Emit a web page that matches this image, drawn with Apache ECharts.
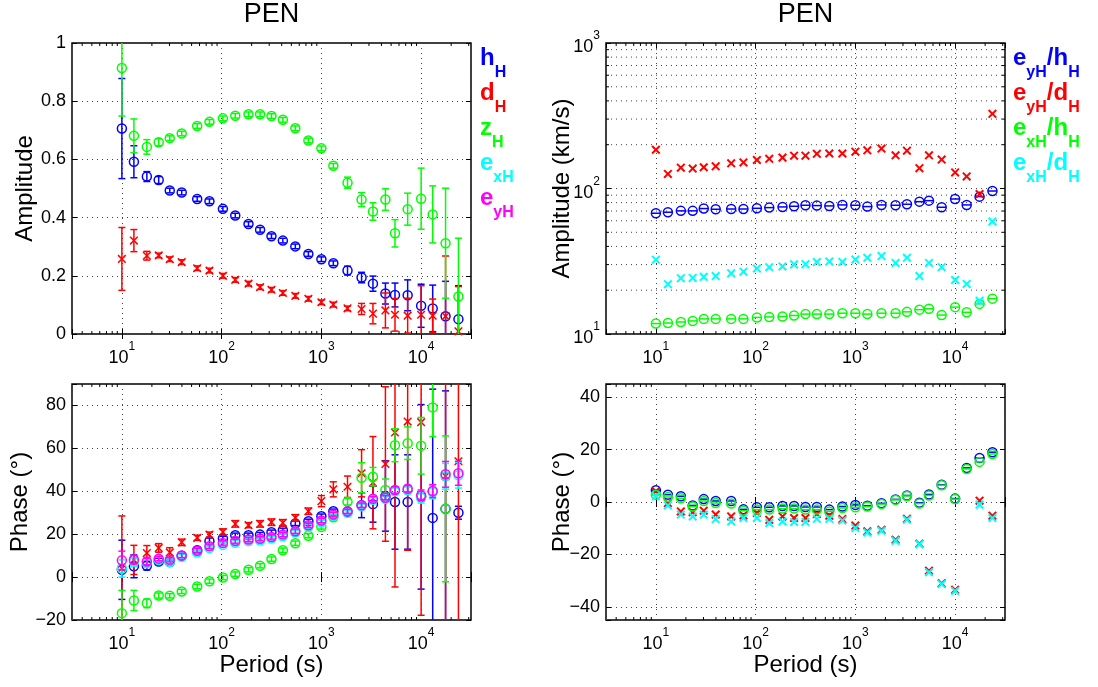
<!DOCTYPE html>
<html>
<head>
<meta charset="utf-8">
<title>PEN</title>
<script src="https://cdn.jsdelivr.net/npm/echarts@6/dist/echarts.min.js"></script>
<style>
  html, body { margin: 0; padding: 0; background: #fff; }
  #main { width: 1098px; height: 687px; }
</style>
</head>
<body>
<div id="main"></div>
<script>
// periods (s), shared by all four panels
var periods = [10, 13.2, 17.8, 23.4, 30.2, 39.8, 56.9, 75.5, 103, 137, 186, 243, 316, 411,
  548, 741, 1000, 1318, 1828, 2529, 3289, 4385, 5470, 7328, 10000, 13062, 17579, 23659];

// top left: amplitude of the transfer functions (with error)
var ampH = [0.706, 0.592, 0.541, 0.529, 0.493, 0.486, 0.464, 0.456, 0.430, 0.407, 0.378, 0.358, 0.336, 0.321,
  0.301, 0.275, 0.257, 0.243, 0.218, 0.194, 0.173, 0.139, 0.134, 0.133, 0.097, 0.088, 0.061, 0.051];
var ampHErr = [0.172, 0.055, 0.017, 0.012, 0.008, 0.008, 0.008, 0.008, 0.008, 0.008, 0.008, 0.008, 0.008, 0.008,
  0.008, 0.008, 0.008, 0.008, 0.015, 0.018, 0.026, 0.036, 0.041, 0.053, 0.074, 0.08, 0.12, 0.115];
var ampD = [0.258, 0.321, 0.269, 0.270, 0.257, 0.247, 0.226, 0.218, 0.200, 0.186, 0.173, 0.161, 0.152, 0.141,
  0.131, 0.121, 0.109, 0.101, 0.088, 0.086, 0.070, 0.081, 0.066, 0.063, 0.066, 0.063, 0.061, 0.009];
var ampDErr = [0.108, 0.038, 0.015, 0.008, 0.008, 0.008, 0.008, 0.008, 0.008, 0.008, 0.008, 0.008, 0.008, 0.008,
  0.008, 0.008, 0.008, 0.008, 0.008, 0.019, 0.035, 0.060, 0.056, 0.060, 0.100, 0.057, 0.207, 0.154];
var ampZ = [0.914, 0.681, 0.643, 0.659, 0.673, 0.689, 0.715, 0.729, 0.741, 0.750, 0.755, 0.755, 0.749, 0.736,
  0.707, 0.665, 0.638, 0.578, 0.520, 0.462, 0.421, 0.462, 0.346, 0.429, 0.465, 0.411, 0.312, 0.129];
var ampZErr = [0.165, 0.058, 0.025, 0.012, 0.008, 0.008, 0.008, 0.008, 0.008, 0.008, 0.008, 0.008, 0.008, 0.008,
  0.008, 0.008, 0.008, 0.008, 0.019, 0.024, 0.030, 0.037, 0.047, 0.055, 0.105, 0.098, 0.189, 0.200];

// bottom left: phase (deg)
var phH = [3.4, 5.0, 5.3, 7.3, 7.0, 10.0, 12.5, 16.7, 18.0, 19.5, 19.5, 19.8, 20.9, 21.8,
  25.0, 26.0, 28.4, 30.7, 30.3, 33.5, 34.0, 37.8, 35.0, 35.0, 37.4, 27.6, 31.8, 30.0];
var phHErr = [13.8, 5.3, 2.0, 1.5, 1, 1, 1, 1.5, 1, 1, 1, 1, 1, 1,
  1, 1, 1, 1, 1.5, 5.8, 8.4, 16.4, 22, 22, 43, 60, 55, 3];
var phD = [4, 8, 11.2, 13.6, 11.5, 16.2, 18.3, 19.8, 21, 24.8, 24.2, 24.8, 25.6, 25.3,
  27.6, 30.7, 35.4, 40.9, 42.1, 48.4, 44, 52.7, 67.4, 72.5, 72.2, null, 47, 54];
var phDErr = [24.5, 6.8, 3.5, 2, 2.2, 1.5, 1.2, 1.2, 1.5, 1.5, 1.2, 1.5, 1.5, 1.5,
  1.5, 1.5, 2.6, 3.5, 5, 11, 21.5, 36, 72, 60, 90, 0, 80, 80];
var phZ = [-16.8, -10.9, -12.2, -8.6, -8.7, -6.7, -4.4, -1.9, -0.2, 1.4, 3.4, 5.3, 8.4, 12.5,
  15.8, 19.3, 23.4, 27.9, 35.1, 46.3, 46.8, 40.6, 61.5, 62.4, 61.2, 79.1, 31.8, null];
var phZErr = [10.6, 4.7, 2, 1.2, 1, 1, 1, 1, 1, 1, 1, 1, 1, 1,
  1, 1, 1, 1, 1.5, 7, 4.3, 5.1, 7.7, 7.6, 13.2, 13.6, 34, 0];
var phEx = [4, 7, 6.5, 8, 7, 9.5, 11.5, 13.5, 15, 16, 16.8, 17, 18, 19,
  20.8, 23.5, 25.5, 28.5, 30, 33, 36, 36.5, 40, 40.5, 37, 39.5, 47, 47.5];
var phExErr = [4, 2, 1.5, 1.2, 1, 1, 1, 1, 1, 1, 1, 1, 1, 1,
  1, 1, 1, 1, 1, 1, 1, 1, 1.5, 1.5, 2.5, 3, 6, 6];
var phEy = [7.8, 8.1, 7.3, 8.6, 8.1, 10.1, 12.3, 14.4, 15.9, 16.8, 17.5, 17.9, 18.7, 19.8,
  21.4, 24.2, 26.4, 29.2, 30.7, 33.5, 36.5, 37, 40.6, 41.2, 38.1, 40.1, 47.9, 48.4];
var phEyErr = [4.3, 2, 1.5, 1, 1, 1, 1, 1, 1, 1, 1, 1, 1, 1,
  1, 1, 1, 1, 1, 1, 1, 1, 1.5, 1.5, 2.5, 3, 6, 5.6];

// top right: impedance-like ratios (km/s)
var ratYH = [67.6, 68.7, 70.2, 70.2, 72.8, 72, 72.3, 72.3, 73.1, 73.9, 74.7, 75.5, 76.7, 76.3,
  75.9, 77.1, 76.7, 75.1, 77.1, 76.7, 77.9, 81.2, 82.5, 74.3, 84.7, 77.1, 87.9, 96.1];
var ratYD = [184.6, 126, 139, 137, 140, 142, 149, 151, 157, 160, 163, 168, 168, 173,
  174, 174, 179, 183, 188, 169, 182, 138, 169, 158, 129, 121, 91.6, 326];
var ratXH = [11.8, 11.9, 12.1, 12.3, 12.7, 12.7, 12.7, 12.7, 13.0, 13.1, 13.2, 13.4, 13.7, 13.7,
  13.7, 13.9, 13.9, 13.7, 13.9, 13.9, 14.2, 14.7, 14.9, 13.5, 15.3, 14.1, 16.1, 17.5];
var ratXD = [32.4, 22, 24.2, 24.3, 24.7, 25, 26.1, 26.8, 28.2, 28.8, 29.1, 30.1, 30.2, 31.2,
  31.5, 31.3, 32.5, 33.4, 34.3, 30.8, 33.4, 25, 30.8, 28.8, 23.5, 22.1, 16.9, 59.3];

// bottom right: ratio phases (deg)
var rphYH = [4.5, 2.8, 2.2, -1.3, 1.1, 0.4, 0.4, -2.8, -2.0, -2.0, -1.5, -1.5, -1.9, -1.9,
  -2.9, -1.7, -1.1, -1.4, -0.5, 1.0, 2.5, -0.3, 2.9, 6.6, 1.3, 13.0, 16.8, 19.0];
var rphYD = [4.1, -0.4, -3.6, -3.9, -3.3, -4.8, -5.5, -5.1, -4.2, -6.8, -5.5, -6.1, -6.1, -4.6,
  -5.2, -6.5, -9.0, -11.2, -10.6, -14.4, -6.4, -15.9, -26.2, -31.0, -33.5, null, 0.5, -5.2];
var rphXH = [2.8, 1.9, 1.4, -1.7, 0.4, -0.4, -0.6, -3.3, -2.9, -2.9, -2.5, -2.5, -2.9, -2.9,
  -3.6, -2.3, -2.0, -1.7, -0.8, 0.8, 2.3, -0.6, 2.5, 6.4, 1.1, 12.6, 15.3, 18.3];
var rphXD = [2.2, -1.3, -4.8, -5.5, -4.8, -6.5, -7.4, -6.1, -6.1, -8.0, -7.4, -7.6, -7.6, -6.4,
  -6.4, -7.1, -9.9, -11.6, -11.0, -14.8, -6.8, -16.1, -26.8, -31.3, -33.9, null, -1.0, -6.1];

// log minor positions (2..9 in every decade)
var minorPeriods = [4, 5, 6, 7, 8, 9, 20, 30, 40, 50, 60, 70, 80, 90, 200, 300, 400, 500, 600, 700, 800, 900,
  2000, 3000, 4000, 5000, 6000, 7000, 8000, 9000, 20000, 30000];
var minorAmp = [20, 30, 40, 50, 60, 70, 80, 90, 200, 300, 400, 500, 600, 700, 800, 900];

var BLUE = "#0000ff", RED = "#ff0000", GREEN = "#00ff00", CYAN = "#00ffff", MAGENTA = "#ff00ff";
var FONT = "Liberation Sans, Arial, Helvetica, sans-serif";
var XMIN = Math.pow(10, 0.5), XMAX = Math.pow(10, 4.5);

window.addEventListener("load", function () {
  var myChart = echarts.init(document.getElementById("main"));

  // panel boxes
  var grids = [
    { left: 72, top: 43, width: 399, height: 291 },
    { left: 72, top: 384, width: 399, height: 236 },
    { left: 606, top: 43, width: 399, height: 291 },
    { left: 606, top: 384, width: 399, height: 236 }
  ];
  grids.forEach(function (g) {
    g.show = true;
    g.borderColor = "#000";
    g.borderWidth = 1.5;
    g.backgroundColor = "transparent";
  });

  var dotted = { color: "#444", width: 1, type: [1, 4] };
  var tick = { show: true, inside: true, length: 5, lineStyle: { color: "#000", width: 1 } };

  // 10^n labels
  var supRich = {
    b: { fontSize: 18, lineHeight: 26.5, verticalAlign: "bottom", fontFamily: FONT, color: "#000" },
    s: { fontSize: 12, lineHeight: 14, verticalAlign: "top", fontFamily: FONT, color: "#000" }
  };
  function powLabel(v) {
    var e = Math.log(v) / Math.LN10;
    var r = Math.round(e);
    if (Math.abs(e - r) > 1e-6) return "";
    return "{b|10}{s|" + r + "}";
  }
  function linLabel(v) {
    if (v < 0) return "\u2212" + (-v);
    return String(v);
  }

  function xAxisFor(gi, main) {
    var ax = {
      type: "log", logBase: 10, gridIndex: gi, min: XMIN, max: XMAX,
      position: main ? "bottom" : "top",
      axisLine: { show: false },
      axisTick: tick,
      axisLabel: { show: main, margin: 6.5, formatter: powLabel, rich: supRich },
      splitLine: { show: main, lineStyle: dotted }
    };
    if (main && (gi === 1 || gi === 3)) {
      ax.name = "Period (s)";
      ax.nameLocation = "middle";
      ax.nameGap = 33;
      ax.nameMoveOverlap = false;
      ax.nameTextStyle = { fontSize: 24, fontFamily: FONT, color: "#000" };
    }
    return ax;
  }

  var yCfg = [
    { type: "value", min: 0, max: 1, interval: 0.2, name: "Amplitude", gap: 35 },
    { type: "value", min: -20, max: 90, interval: 20, name: "Phase (\u00b0)", gap: 40 },
    { type: "log", min: 10, max: 1000, name: "Amplitude (km/s)", gap: 31.5 },
    { type: "value", min: -45, max: 45, name: "Phase (\u00b0)", gap: 31.5 }
  ];
  function yAxisFor(gi, main) {
    var c = yCfg[gi];
    var ax = {
      type: c.type, gridIndex: gi, min: c.min, max: c.max,
      position: main ? "left" : "right",
      axisLine: { show: false },
      axisTick: tick,
      splitLine: { show: main, lineStyle: dotted }
    };
    if (c.interval) ax.interval = c.interval;
    if (c.type === "log") {
      ax.logBase = 10;
      ax.axisLabel = { show: main, margin: 6, formatter: powLabel, rich: supRich };
    } else {
      ax.axisLabel = {
        show: main, margin: 6, fontSize: 18, fontFamily: FONT, color: "#000",
        formatter: function (v) {
          if (gi === 1 && v === 90) return "";
          if (gi === 3 && v % 20 !== 0) return "";
          return linLabel(v);
        }
      };
    }
    if (main) {
      ax.name = c.name;
      ax.nameLocation = "middle";
      ax.nameGap = c.gap;
      ax.nameMoveOverlap = false;
      ax.nameTextStyle = { fontSize: 24, fontFamily: FONT, color: "#000" };
    }
    return ax;
  }

  var xAxes = [], yAxes = [];
  [0, 1, 2, 3].forEach(function (gi) { xAxes.push(xAxisFor(gi, true)); yAxes.push(yAxisFor(gi, true)); });
  [0, 1, 2, 3].forEach(function (gi) { xAxes.push(xAxisFor(gi, false)); yAxes.push(yAxisFor(gi, false)); });

  var CAP = 3.5, R = 4.5, LW = 1.5;
  function seg(x1, y1, x2, y2, color, w) {
    return { type: "line", shape: { x1: x1, y1: y1, x2: x2, y2: y2 }, style: { stroke: color, lineWidth: w || LW } };
  }

  function pointSeries(gi, ys, errs, color, marker) {
    var data = [];
    periods.forEach(function (p, i) {
      if (ys[i] === null || ys[i] === undefined) return;
      data.push([p, ys[i], errs ? errs[i] : 0]);
    });
    return {
      type: "custom",
      xAxisIndex: gi, yAxisIndex: gi,
      dimensions: ["x", "y", "e"],
      encode: { x: 0, y: 1 },
      data: data,
      silent: true,
      renderItem: function (params, api) {
        var x = api.value(0), y = api.value(1), e = api.value(2);
        var r = params.coordSys;
        var top = r.y, bot = r.y + r.height;
        var p = api.coord([x, y]);
        var kids = [];
        if (e > 0) {
          var yHi = api.coord([x, y + e])[1];
          var yLo = api.coord([x, y - e])[1];
          var a = Math.max(yHi, top), b = Math.min(yLo, bot);
          if (b > a) kids.push(seg(p[0], a, p[0], b, color));
          if (yHi >= top && yHi <= bot) kids.push(seg(p[0] - CAP, yHi, p[0] + CAP, yHi, color));
          if (yLo >= top && yLo <= bot) kids.push(seg(p[0] - CAP, yLo, p[0] + CAP, yLo, color));
        }
        if (p[1] >= top - 2 && p[1] <= bot + 2) {
          if (marker === "o" || marker === "ob") {
            kids.push({ type: "circle", shape: { cx: p[0], cy: p[1], r: R },
              style: { fill: "none", stroke: color, lineWidth: LW } });
            if (marker === "ob") kids.push(seg(p[0] - R, p[1], p[0] + R, p[1], color));
          } else {
            var d = 3.8;
            var w = marker === "xb" ? 2 : LW;
            kids.push(seg(p[0] - d, p[1] - d, p[0] + d, p[1] + d, color, w));
            kids.push(seg(p[0] - d, p[1] + d, p[0] + d, p[1] - d, color, w));
          }
        }
        return { type: "group", children: kids };
      }
    };
  }

  // minor ticks on the log period axes (bottom and top edges)
  function minorXSeries(gi, yRef) {
    return {
      type: "custom", xAxisIndex: gi, yAxisIndex: gi, silent: true, z: 1,
      data: minorPeriods.map(function (v) { return [v, yRef]; }),
      renderItem: function (params, api) {
        var r = params.coordSys;
        var x = api.coord([api.value(0), api.value(1)])[0];
        return { type: "group", children: [
          seg(x, r.y + r.height, x, r.y + r.height - 3, "#000", 1),
          seg(x, r.y, x, r.y + 3, "#000", 1)
        ] };
      }
    };
  }
  // minor grid + ticks on the log amplitude axis
  var minorYSeries = {
    type: "custom", xAxisIndex: 2, yAxisIndex: 2, silent: true, z: 1,
    data: minorAmp.map(function (v) { return [XMIN, v]; }),
    renderItem: function (params, api) {
      var r = params.coordSys;
      var y = api.coord([api.value(0), api.value(1)])[1];
      return { type: "group", children: [
        { type: "line", shape: { x1: r.x, y1: y, x2: r.x + r.width, y2: y },
          style: { stroke: "#444", lineWidth: 1, lineDash: [1, 4] } },
        seg(r.x, y, r.x + 3, y, "#000", 1),
        seg(r.x + r.width, y, r.x + r.width - 3, y, "#000", 1)
      ] };
    }
  };

  var series = [
    minorXSeries(0, 0.5), minorXSeries(1, 0), minorXSeries(2, 100), minorXSeries(3, 0), minorYSeries,
    // top left
    pointSeries(0, ampH, ampHErr, BLUE, "o"),
    pointSeries(0, ampD, ampDErr, RED, "x"),
    pointSeries(0, ampZ, ampZErr, GREEN, "o"),
    // bottom left
    pointSeries(1, phH, phHErr, BLUE, "o"),
    pointSeries(1, phD, phDErr, RED, "x"),
    pointSeries(1, phZ, phZErr, GREEN, "o"),
    pointSeries(1, phEx, phExErr, CYAN, "o"),
    pointSeries(1, phEy, phEyErr, MAGENTA, "o"),
    // top right
    pointSeries(2, ratYH, null, BLUE, "ob"),
    pointSeries(2, ratYD, null, RED, "xb"),
    pointSeries(2, ratXH, null, GREEN, "ob"),
    pointSeries(2, ratXD, null, CYAN, "xb"),
    // bottom right
    pointSeries(3, rphYH, null, BLUE, "ob"),
    pointSeries(3, rphYD, null, RED, "xb"),
    pointSeries(3, rphXH, null, GREEN, "ob"),
    pointSeries(3, rphXD, null, CYAN, "xb")
  ];

  // legend text with subscripts
  function legendText(x, y, text, color) {
    return {
      type: "text", x: x, y: y, silent: true,
      style: {
        text: text,
        fill: color,
        rich: {
          m: { fontSize: 24, fontWeight: "bold", fontFamily: FONT, fill: color, lineHeight: 24, verticalAlign: "top" },
          s: { fontSize: 16, fontWeight: "bold", fontFamily: FONT, fill: color, lineHeight: 34, verticalAlign: "bottom" }
        }
      }
    };
  }
  var legendLeft = [
    ["{m|h}{s|H}", BLUE], ["{m|d}{s|H}", RED], ["{m|z}{s|H}", GREEN],
    ["{m|e}{s|xH}", CYAN], ["{m|e}{s|yH}", MAGENTA]
  ];
  var legendRight = [
    ["{m|e}{s|yH}{m|/h}{s|H}", BLUE], ["{m|e}{s|yH}{m|/d}{s|H}", RED],
    ["{m|e}{s|xH}{m|/h}{s|H}", GREEN], ["{m|e}{s|xH}{m|/d}{s|H}", CYAN]
  ];
  var graphics = [];
  legendLeft.forEach(function (l, i) { graphics.push(legendText(480, 46.5 + i * 35, l[0], l[1])); });
  legendRight.forEach(function (l, i) { graphics.push(legendText(1013, 46.5 + i * 35, l[0], l[1])); });
  [271.5, 805.5].forEach(function (cx) {
    graphics.push({
      type: "text", x: cx, y: 15, silent: true,
      style: { text: "PEN", fontSize: 27, fontFamily: FONT, fill: "#000", align: "center", verticalAlign: "middle" }
    });
  });

  var option = {
    animation: false,
    backgroundColor: "#fff",
    grid: grids,
    xAxis: xAxes,
    yAxis: yAxes,
    series: series,
    graphic: graphics
  };
  myChart.setOption(option);
  window.addEventListener("resize", function () { myChart.resize(); });
});
</script>
</body>
</html>
